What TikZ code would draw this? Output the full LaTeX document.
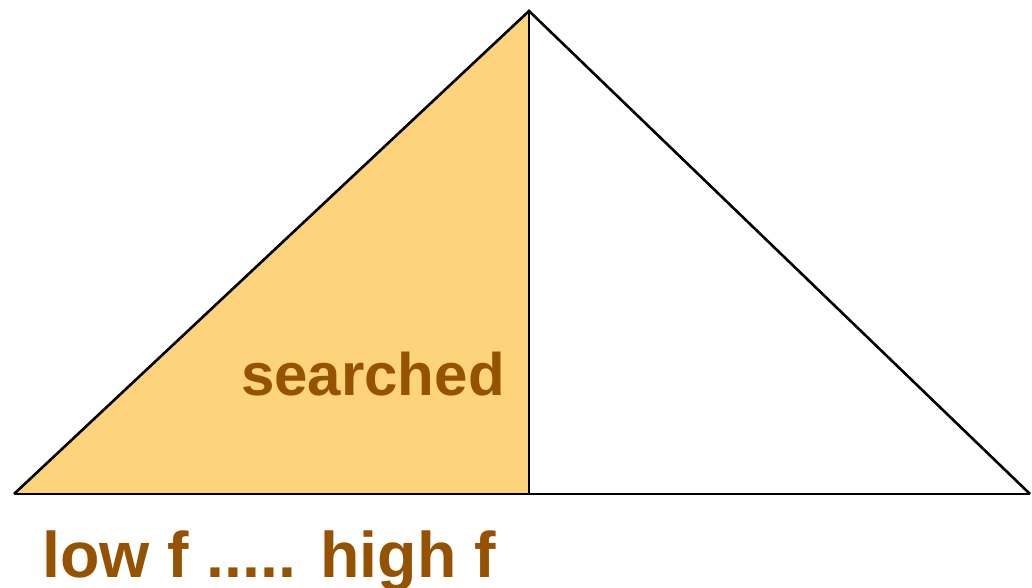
\documentclass[tikz,border=0pt]{standalone}
\usepackage{fontspec}
\setmainfont{Liberation Sans}
\definecolor{fillorange}{HTML}{FDD37C}
\definecolor{txtbrown}{HTML}{955200}
\begin{document}
\begin{tikzpicture}[x=1pt,y=-1pt,
  lbl/.style={text=txtbrown,font=\bfseries\fontsize{60}{72}\selectfont,inner sep=0pt,anchor=base west},
  edge/.style={draw=black,line width=2.6pt,line join=miter}]
\useasboundingbox (0,0) rectangle (1032,588);
\coordinate (L) at (14,494);
\coordinate (A) at (529,11);
\coordinate (R) at (1030,494);
\coordinate (M) at (529,494);
\fill[fillorange] (L) -- (A) -- (M) -- cycle;
\draw[edge] (L) -- (A) -- (R);
\draw[edge] (L) -- (R);
\draw[edge] (A) -- (M);
\node[lbl] (s) at (241,395) {searched};
\node[lbl,font=\bfseries\fontsize{64.5}{76}\selectfont] (lh) at (42,577) {low f ..... high f};
\end{tikzpicture}
\end{document}
